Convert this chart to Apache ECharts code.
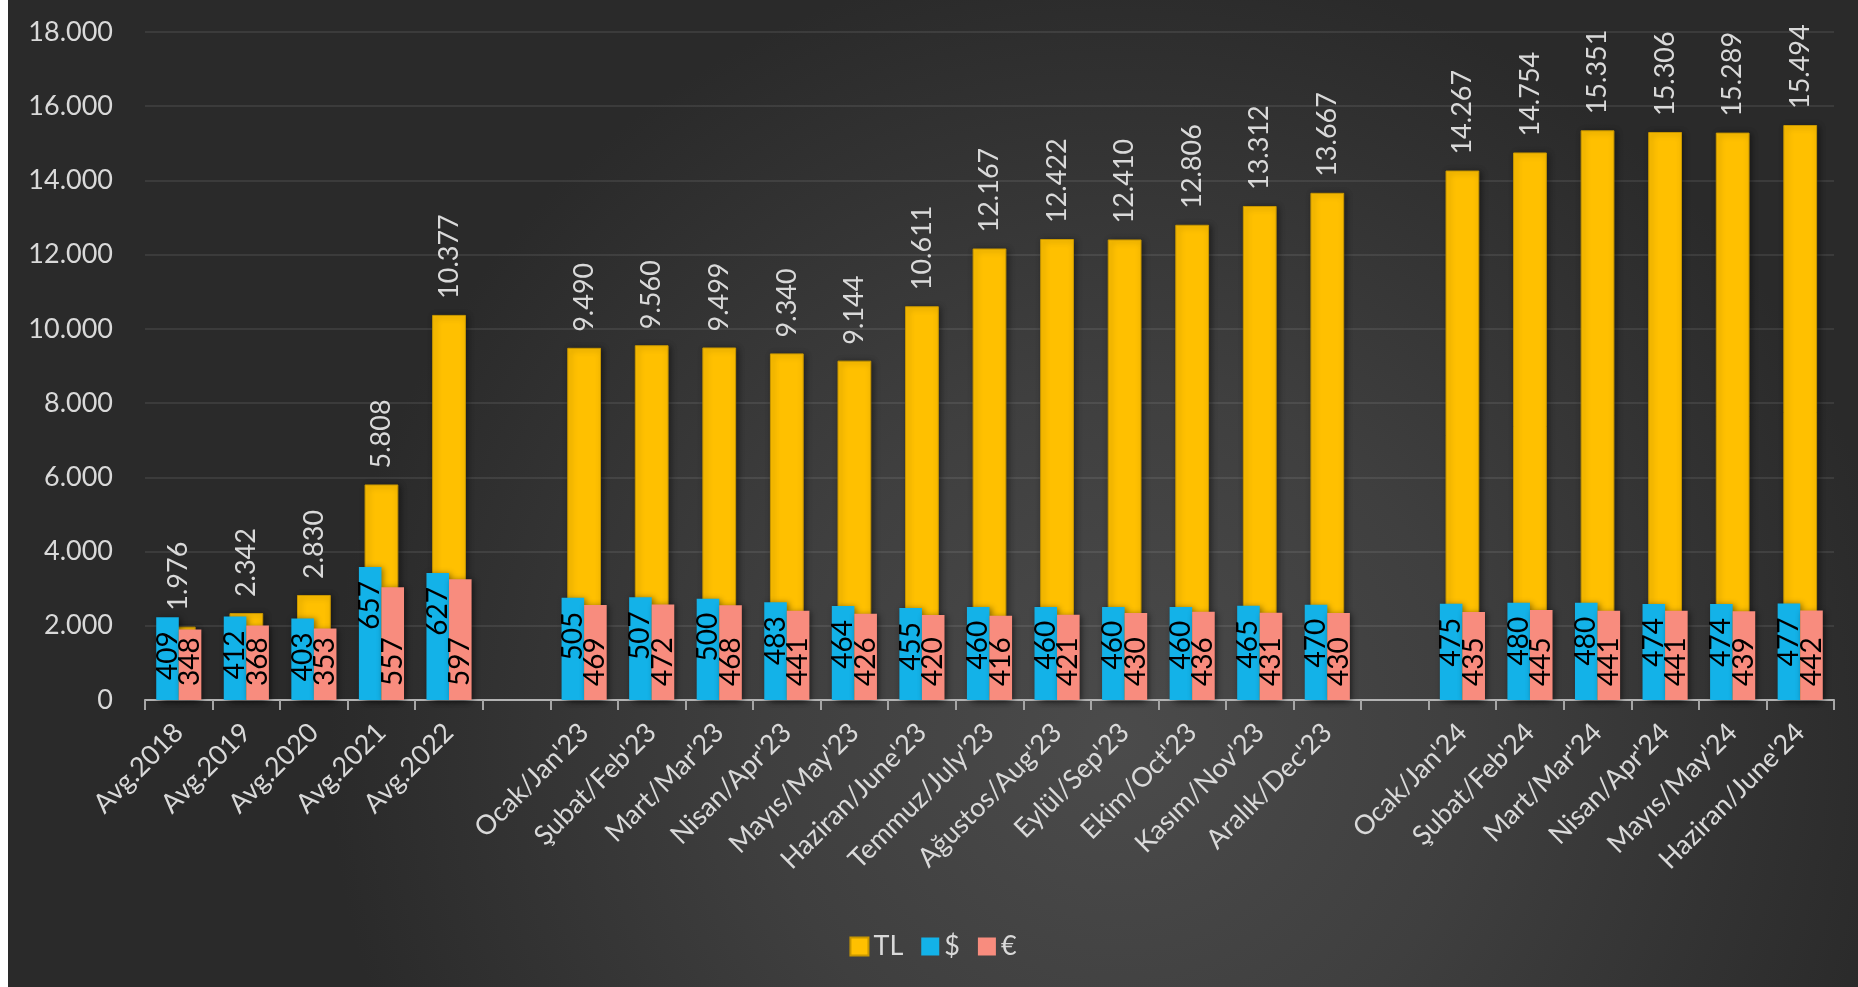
<!DOCTYPE html>
<html>
<head>
<meta charset="utf-8">
<script src="https://cdn.jsdelivr.net/npm/echarts@6/dist/echarts.min.js"></script>
<style>
  html, body { margin: 0; padding: 0; background: #ffffff; overflow: hidden; }
  #chart { position: absolute; left: 8px; top: 0; width: 1850px; height: 987px; }
</style>
</head>
<body>
<div id="chart"></div>
<script>
const categories = ["Avg.2018", "Avg.2019", "Avg.2020", "Avg.2021", "Avg.2022", "",
  "Ocak/Jan'23", "Şubat/Feb'23", "Mart/Mar'23", "Nisan/Apr'23", "Mayıs/May'23", "Haziran/June'23",
  "Temmuz/July'23", "Ağustos/Aug'23", "Eylül/Sep'23", "Ekim/Oct'23", "Kasım/Nov'23", "Aralık/Dec'23", "",
  "Ocak/Jan'24", "Şubat/Feb'24", "Mart/Mar'24", "Nisan/Apr'24", "Mayıs/May'24", "Haziran/June'24"];
const tlValues = [1976, 2342, 2830, 5808, 10377, null,
  9490, 9560, 9499, 9340, 9144, 10611, 12167, 12422, 12410, 12806, 13312, 13667, null,
  14267, 14754, 15351, 15306, 15289, 15494];
const usdValues = [409, 412, 403, 657, 627, null,
  505, 507, 500, 483, 464, 455, 460, 460, 460, 460, 465, 470, null,
  475, 480, 480, 474, 474, 477];
const eurValues = [348, 368, 353, 557, 597, null,
  469, 472, 468, 441, 426, 420, 416, 421, 430, 436, 431, 430, null,
  435, 445, 441, 441, 439, 442];
const yTicks = [0, 2000, 4000, 6000, 8000, 10000, 12000, 14000, 16000, 18000];

function fmt(v) {
  return String(Math.round(v)).replace(/\B(?=(\d{3})+(?!\d))/g, '.');
}

const FONT = 'Lato';
const txt = '#d9d9d9';
const chart = echarts.init(document.getElementById('chart'));
const shadow = { shadowBlur: 6, shadowColor: 'rgba(0,0,0,0.45)', shadowOffsetX: 2, shadowOffsetY: 1 };

chart.setOption({
  animation: false,
  backgroundColor: {
    type: 'radial', x: 0.6, y: 0.75, r: 0.8,
    colorStops: [{ offset: 0, color: '#4b4b4b' }, { offset: 0.45, color: '#3f3f3f' }, { offset: 1, color: '#2a2a2a' }]
  },
  textStyle: { fontFamily: FONT },
  grid: { left: 137, right: 24, top: 32, bottom: 287 },
  legend: {
    bottom: 22, left: 'center',
    itemWidth: 18, itemHeight: 18, itemGap: 18, icon: 'rect',
    textStyle: { color: txt, fontSize: 27, fontFamily: FONT },
    data: ['TL', '$', '€']
  },
  xAxis: [{
    type: 'category', data: categories,
    axisLine: { lineStyle: { color: '#b3b3b3', width: 2 } },
    axisTick: { show: true, length: 10, lineStyle: { color: '#a6a6a6', width: 2 } },
    axisLabel: { color: txt, fontSize: 27, rotate: 45, margin: 28, fontFamily: FONT, interval: 0 }
  }, {
    type: 'category', data: categories, show: false
  }],
  yAxis: [{
    type: 'value', min: 0, max: 18000, interval: 2000,
    axisLine: { show: false }, axisTick: { show: false },
    splitLine: { lineStyle: { color: 'rgba(255,255,255,0.11)', width: 1.5 } },
    axisLabel: { color: txt, fontSize: 27, margin: 32, fontFamily: FONT,
      formatter: v => yTicks.includes(v) ? fmt(v) : '' }
  }, {
    type: 'value', min: 0, max: 3300, show: false, splitLine: { show: false }
  }],
  series: [{
    name: 'TL', type: 'bar', xAxisIndex: 0, yAxisIndex: 0, data: tlValues,
    barWidth: '50%', z: 2,
    itemStyle: Object.assign({ color: '#FFC000', borderColor: '#C89700', borderWidth: 1 }, shadow),
    label: { show: true, position: 'top', rotate: 90, align: 'left', verticalAlign: 'middle',
      distance: 16, color: txt, fontSize: 27, fontFamily: FONT, formatter: p => fmt(p.value) }
  }, {
    name: '$', type: 'bar', xAxisIndex: 1, yAxisIndex: 1, data: usdValues,
    barWidth: '33.4%', barGap: '0%', z: 3,
    itemStyle: Object.assign({ color: '#13B2E8' }, shadow),
    label: { show: true, position: 'insideTop', rotate: 90, align: 'right', verticalAlign: 'middle',
      distance: 14, color: '#000000', fontSize: 28, fontFamily: FONT, formatter: p => fmt(p.value) }
  }, {
    name: '€', type: 'bar', xAxisIndex: 1, yAxisIndex: 1, data: eurValues,
    barWidth: '33.4%', barGap: '0%', z: 3,
    itemStyle: Object.assign({ color: '#F88C7E' }, shadow),
    label: { show: true, position: 'insideBottom', rotate: 90, align: 'left', verticalAlign: 'middle',
      distance: 14, color: '#000000', fontSize: 28, fontFamily: FONT, formatter: p => fmt(p.value) }
  }]
});
</script>
</body>
</html>
